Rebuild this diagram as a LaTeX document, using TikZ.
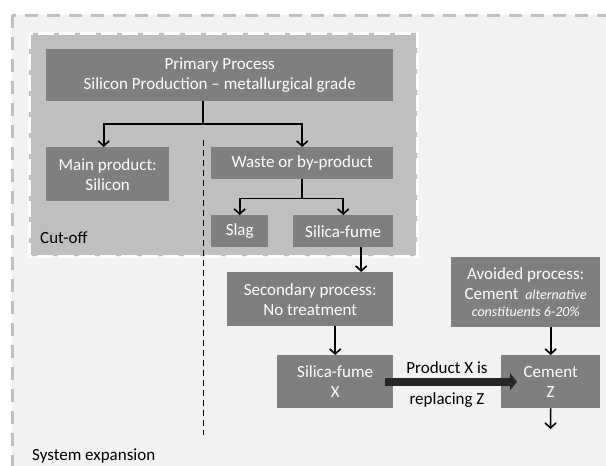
\documentclass[tikz,border=0pt]{standalone}
\usepackage{fontspec}
\setmainfont{Carlito}
\usetikzlibrary{arrows.meta,calc}
\definecolor{bggray}{HTML}{F2F2F2}
\definecolor{cutgray}{HTML}{BFBFBF}
\definecolor{boxgray}{HTML}{7F7F7F}
\definecolor{dashgray}{HTML}{BFBFBF}
\definecolor{bigarrow}{HTML}{262626}
\begin{document}
\begin{tikzpicture}[x=1pt,y=-1pt,
  box/.style={fill=boxgray, text=white, inner sep=0pt, anchor=north west, align=center,
    font=\fontsize{17}{20}\selectfont},
  lbl/.style={inner sep=0pt, font=\fontsize{17}{20}\selectfont, text=black},
  conn/.style={line width=1.6pt, -{Straight Barb[length=5pt,width=11pt,line width=1.6pt]}},
  plain/.style={line width=1.6pt},
  small/.style={}]
\useasboundingbox (0,0) rectangle (606,466);
\clip (0,0) rectangle (606,466);
% system expansion area
\fill[white] (0,0) rectangle (606,466);
\draw[fill=bggray, draw=dashgray, line width=3pt, dash pattern=on 13pt off 9pt]
  (12,15) rectangle (640,500);
% cut-off area
\draw[fill=cutgray, draw=white, line width=3pt, dash pattern=on 16pt off 5pt]
  (29,33) rectangle (417,256);
% dashed separator
\coordinate (sepTop) at (203,140);
\coordinate (sepBot) at (203,435);
\draw[line width=1pt, dash pattern=on 6pt off 4pt] (sepTop) -- (sepBot);

% boxes
\node[box, minimum width=347pt, minimum height=52pt] (prim) at (46,49)
  {Primary Process\\Silicon Production – metallurgical grade};
\node[box, minimum width=123pt, minimum height=54pt] (main) at (46,147)
  {Main product:\\Silicon};
\node[box, minimum width=182pt, minimum height=32pt] (waste) at (211,147)
  {Waste or by-product};
\node[box, minimum width=57pt, minimum height=32pt] (slag) at (211,215)
  {Slag};
\node[box, minimum width=100pt, minimum height=32pt] (sf) at (293,215)
  {Silica-fume};
\node[box, minimum width=166pt, minimum height=54pt] (sec) at (227,272)
  {Secondary process:\\No treatment};
\node[box, minimum width=116pt, minimum height=53pt] (sfx) at (277,355)
  {Silica-fume\\X};
\node[box, minimum width=149pt, minimum height=70pt] (av) at (451,257)
  {Avoided process:\\Cement \,{\fontsize{14}{16}\selectfont\itshape alternative}\\[-3pt]
   {\fontsize{14}{16}\selectfont\itshape constituents 6-20\%}};
\node[box, minimum width=99pt, minimum height=53pt] (cz) at (501,355)
  {Cement\\Z};

% labels
\node[lbl, anchor=base west] (cutoff) at (40,243) {Cut-off};
\node[lbl, anchor=base west] (sysexp) at (32,460) {System expansion};
\node[lbl, anchor=base] (repl1) at (447,373) {Product X is};
\node[lbl, anchor=base] (repl2) at (447,404) {replacing Z};

% connectors
\coordinate (split1) at (203,124);
\draw[plain] (prim.south -| split1) -- (split1);
\draw[conn] (split1) -| ([xshift=-4pt]main.north);
\draw[conn] (split1) -| (waste.north);
\draw[plain] (waste.south) -- ++(0,19) coordinate (split2);
\draw[conn] (split2) -| (slag.north);
\draw[conn] (split2) -| (sf.north);
\draw[conn] ([xshift=18pt]sf.south) -- ([xshift=18pt]sf.south |- sec.north);
\draw[conn] (sec.south -| sfx.north) -- (sfx.north);
\draw[conn] (av.south -| cz.north) -- (cz.north);
\coordinate (out) at (550.5,429);
\draw[conn] (cz.south) -- (out);
\draw[line width=8pt, draw=bigarrow, -{Triangle[length=7pt,width=17pt]}]
  ([xshift=-8pt]sfx.east) -- ([xshift=16pt]cz.west);
\end{tikzpicture}
\end{document}
